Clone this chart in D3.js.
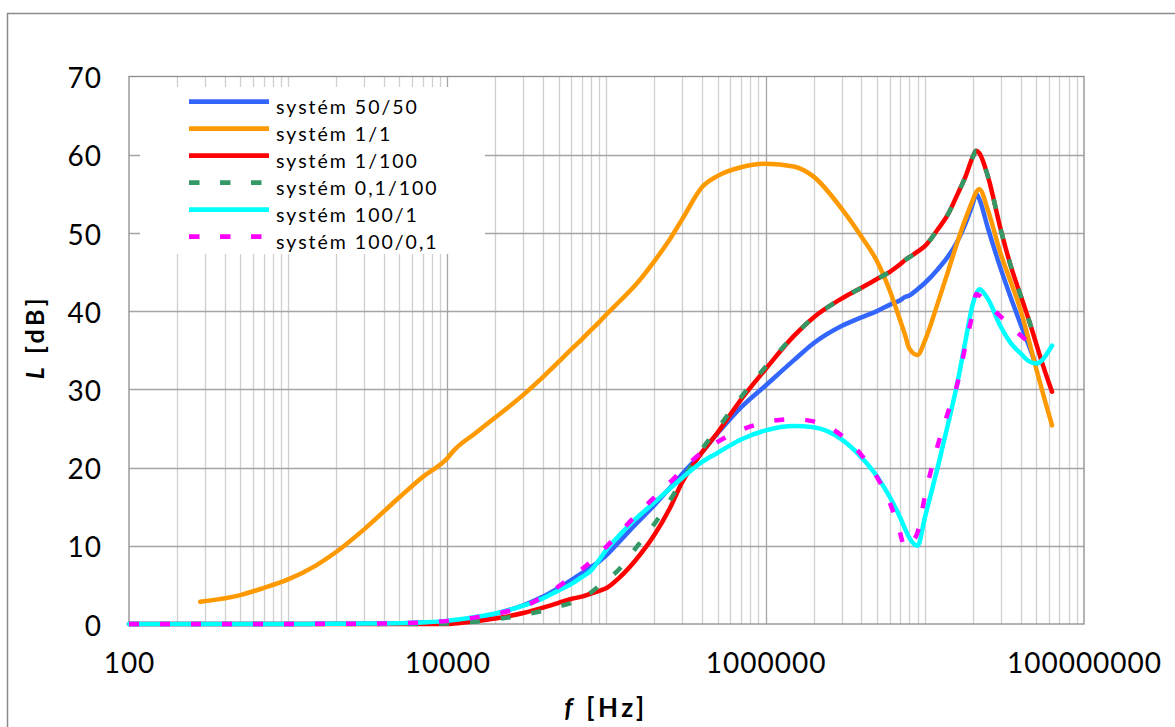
<!DOCTYPE html>
<html>
<head>
<meta charset="utf-8">
<script src="https://cdnjs.cloudflare.com/ajax/libs/d3/7.8.5/d3.min.js"></script>
<style>
  body { margin: 0; background: #fff; }
  svg text { font-family: Lato, "Open Sans", sans-serif; fill: #000; }
</style>
</head>
<body>
<svg id="chart" width="1175" height="727"></svg>
<script>
// frequency grid [Hz], shared by all series
var freq = [100, 200, 280, 500, 700, 1000, 1500, 2000, 3000, 5000, 7000,
    1e4, 1.1e4, 1.5e4, 2e4, 3e4, 4e4, 5e4, 6e4, 7e4, 8e4, 9e4,
    1e5, 1.2e5, 1.5e5, 2e5, 2.5e5, 3e5, 4e5, 5e5, 7e5,
    1e6, 1.5e6, 2e6, 3e6, 4e6, 5e6, 6e6, 7e6, 7.5e6, 8e6, 9e6,
    1e7, 1.2e7, 1.4e7, 1.6e7, 1.8e7, 2e7, 2.1e7, 2.2e7, 2.5e7, 3e7, 3.5e7, 4e7, 4.5e7, 5e7, 5.5e7, 6e7, 6.3e7];

// L [dB] per series (null = no point)
var sys50_50 = [0, 0, 0, 0, 0, 0, 0.02, 0.03, 0.05, 0.1, 0.2,
    0.3, 0.35, 0.7, 1.3, 2.4, 3.5, 4.6, 5.6, 6.5, 7.3, 8.0,
    8.8, 10.5, 12.6, 15.2, 17.4, 19.2, 22.0, 24.4, 27.7,
    30.5, 33.7, 35.9, 38.1, 39.2, 40.0, 40.8, 41.4, 41.8, 42.0, 42.8,
    43.6, 45.3, 47.0, 48.9, 51.2, 53.7, 55.0, 54.3, 50.5, 45.4, 41.5, 38.3, 35.6, 33.1, null, null, null];
var sys1_1 = [null, null, 2.85, 3.7, 4.6, 5.7, 7.5, 9.2, 12.1, 16.2, 18.8,
    21.2, 22.2, 24.4, 26.4, 29.3, 31.6, 33.5, 35.1, 36.4, 37.6, 38.6,
    39.6, 41.2, 43.2, 46.4, 49.2, 51.8, 55.9, 57.3, 58.4,
    58.85, 58.5, 57.2, 53.1, 49.5, 46.4, 42.7, 38.8, 37.0, 35.2, 34.4,
    36.2, 40.9, 45.1, 48.8, 51.8, 54.2, 55.2, 55.6, 52.8, 47.3, 43.5, 40.1, 36.3, 32.7, 29.6, 26.9, 25.4];
var sys1_100 = [0, 0, 0, 0, 0, 0, 0, 0, 0, 0, 0,
    0, 0.05, 0.35, 0.7, 1.4, 2.1, 2.7, 3.2, 3.5, 3.9, 4.25,
    4.6, 5.9, 8.0, 11.4, 14.8, 18.2, 22.0, 24.5, 28.7,
    32.6, 36.8, 39.2, 41.6, 43.0, 44.1, 45.0, 46.0, 46.5, 46.9, 47.6,
    48.3, 50.4, 52.4, 54.9, 57.2, 59.7, 60.5, 60.2, 57.1, 50.4, 45.5, 42.0, 38.9, 35.9, 33.2, 30.9, 29.7];
var sys01_100 = [0, 0, 0, 0, 0, 0, 0, 0, 0, 0, 0,
    0.05, 0.1, 0.3, 0.6, 1.15, 1.7, 2.25, 2.7, 3.5, 4.05, 4.9,
    5.6, 7.0, 9.5, 12.8, 15.8, 18.4, 22.4, 25.0, 29.0,
    32.9, 36.8, 39.2, 41.6, 43.0, 44.1, 45.0, 46.0, 46.5, 46.9, 47.6,
    48.3, 50.4, 52.4, 54.9, 57.2, 59.7, 60.5, 60.2, 57.1, 50.4, 45.5, 42.0, 38.9, 35.9, null, null, null];
var sys100_1 = [0, 0, 0, 0, 0, 0, 0.02, 0.03, 0.05, 0.1, 0.2,
    0.4, 0.5, 0.9, 1.35, 2.35, 3.3, 4.3, 5.1, 6.0, 6.85, 8.2,
    9.5, 11.3, 13.3, 15.55, 17.3, 18.7, 20.75, 21.9, 23.6,
    24.75, 25.3, 25.15, 23.6, 21.3, 18.9, 16.3, 13.6, 12.2, 11.0, 10.0,
    13.6, 19.9, 25.6, 30.8, 36.2, 40.9, 42.2, 42.8, 41.5, 38.0, 35.8, 34.6, 33.6, 33.3, 33.8, 34.9, 35.6];
var sys100_01 = [0, 0, 0, 0, 0, 0, 0.02, 0.03, 0.05, 0.1, 0.2,
    0.4, 0.5, 0.85, 1.3, 2.2, 3.5, 4.8, 6.0, 7.0, 8.0, 9.0,
    9.9, 11.6, 13.7, 16.2, 18.1, 19.7, 22.0, 23.3, 24.8,
    25.8, 26.2, 25.9, 24.1, 21.6, 18.8, 15.6, 11.6, 9.7, 10.2, 11.7,
    16.3, 22.7, 27.1, 30.7, 35.6, 39.9, 42.2, 42.0, 40.8, 39.3, 38.0, 36.9, 36.0, 35.2, null, null, null];

var seriesNames = ["systém 50/50", "systém 1/1", "systém 1/100", "systém 0,1/100", "systém 100/1", "systém 100/0,1"];
var yTicks = [0, 10, 20, 30, 40, 50, 60, 70];
var xTickLabels = [100, 10000, 1000000, 100000000];

var seriesData = [sys50_50, sys1_1, sys1_100, sys01_100, sys100_1, sys100_01];
var colors = ["#3366ff", "#ff9900", "#ff0000", "#339966", "#00ffff", "#ff00ff"];
var dashes = [null, null, null, "10,21", null, "10,21"];

var W = 1175, H = 727;
var x = d3.scaleLog().domain([100, 1e8]).range([129, 1084]);
var y = d3.scaleLinear().domain([0, 70]).range([624, 76.5]);

var svg = d3.select("#chart");
svg.append("rect").attr("width", W).attr("height", H).attr("fill", "#fff");

// outer chart frame (runs off the picture at right and bottom)
svg.append("rect")
    .attr("x", 7.5).attr("y", 13.5)
    .attr("width", 1300).attr("height", 900)
    .attr("fill", "none").attr("stroke", "#8c8c8c").attr("stroke-width", 1.5);

//Gridlines
var isMajor = function (d) {
    return xTickLabels.some(function (t) { return Math.abs(d / t - 1) < 1e-9; });
};
var grid = svg.append("g");
grid.selectAll(".minor-x")
    .data(x.ticks().filter(function (d) { return !isMajor(d); }))
    .enter().append("line")
    .attr("x1", function (d) { return Math.round(x(d)) + 0.5; })
    .attr("x2", function (d) { return Math.round(x(d)) + 0.5; })
    .attr("y1", y(70)).attr("y2", y(0))
    .attr("stroke", "#cfcfcf").attr("stroke-width", 1.3);
grid.selectAll(".major-x")
    .data(xTickLabels.slice(1, -1))
    .enter().append("line")
    .attr("x1", function (d) { return Math.round(x(d)) + 0.5; })
    .attr("x2", function (d) { return Math.round(x(d)) + 0.5; })
    .attr("y1", y(70)).attr("y2", y(0))
    .attr("stroke", "#a5a5a5").attr("stroke-width", 1.3);
grid.selectAll(".major-y")
    .data(yTicks.slice(1, -1))
    .enter().append("line")
    .attr("x1", x(100)).attr("x2", x(1e8))
    .attr("y1", function (d) { return Math.round(y(d)) + 0.5; })
    .attr("y2", function (d) { return Math.round(y(d)) + 0.5; })
    .attr("stroke", "#a5a5a5").attr("stroke-width", 1.3);

// plot area border
svg.append("rect")
    .attr("x", x(100)).attr("y", y(70))
    .attr("width", x(1e8) - x(100)).attr("height", y(0) - y(70))
    .attr("fill", "none").attr("stroke", "#8c8c8c").attr("stroke-width", 1.3);

//Axes
var gy = svg.append("g")
    .attr("transform", "translate(" + x(100) + ",0)")
    .call(d3.axisLeft(y).tickValues(yTicks).tickSize(0).tickPadding(27));
gy.select(".domain").remove();
gy.selectAll("text")
    .attr("font-family", "Lato, 'Open Sans', sans-serif")
    .attr("font-size", 28).attr("letter-spacing", 1).attr("dy", "0.4em");

var gx = svg.append("g")
    .attr("transform", "translate(0," + y(0) + ")")
    .call(d3.axisBottom(x).tickValues(xTickLabels).tickFormat(d3.format("d")).tickSize(0).tickPadding(29));
gx.select(".domain").remove();
gx.selectAll("text")
    .attr("font-family", "Lato, 'Open Sans', sans-serif")
    .attr("font-size", 28).attr("letter-spacing", 1);

// axis titles
var xt = svg.append("text")
    .attr("x", 606).attr("y", 717)
    .attr("text-anchor", "middle")
    .attr("font-size", 26).attr("font-weight", "bold").attr("letter-spacing", 3.5);
xt.append("tspan").attr("font-style", "italic").text("f");
xt.append("tspan").text(" [Hz]");

var yt = svg.append("text")
    .attr("transform", "translate(44,337)rotate(-90)")
    .attr("text-anchor", "middle")
    .attr("font-size", 25).attr("font-weight", "bold").attr("letter-spacing", 3.5);
yt.append("tspan").attr("font-style", "italic").text("L");
yt.append("tspan").text(" [dB]");

//Lines
var line = d3.line()
    .defined(function (d) { return d[1] != null; })
    .x(function (d) { return x(d[0]); })
    .y(function (d) { return y(d[1]); })
    .curve(d3.curveMonotoneX);

svg.append("g").selectAll("path")
    .data(seriesData)
    .enter().append("path")
    .attr("d", function (vals) {
        return line(freq.map(function (f, i) { return [f, vals[i]]; }));
    })
    .attr("fill", "none")
    .attr("stroke", function (d, i) { return colors[i]; })
    .attr("stroke-width", 4.5)
    .attr("stroke-linejoin", "round")
    .attr("stroke-linecap", function (d, i) { return dashes[i] ? "butt" : "round"; })
    .attr("stroke-dasharray", function (d, i) { return dashes[i]; });

//Legend
var legend = svg.append("g");
legend.append("rect")
    .attr("x", 140).attr("y", 87).attr("width", 345).attr("height", 167)
    .attr("fill", "#fff");
var item = legend.selectAll(".item")
    .data(seriesNames)
    .enter().append("g")
    .attr("transform", function (d, i) { return "translate(189," + (101.7 + i * 27) + ")"; });
item.append("line")
    .attr("x1", 0).attr("x2", 80)
    .attr("stroke", function (d, i) { return colors[i]; })
    .attr("stroke-width", 4.7)
    .attr("stroke-dasharray", function (d, i) { return dashes[i] ? "10.5,20.5" : null; });
item.append("text")
    .attr("x", 87).attr("y", 12)
    .attr("font-size", 19.5).attr("letter-spacing", 2)
    .text(function (d) { return d; });
</script>
</body>
</html>
